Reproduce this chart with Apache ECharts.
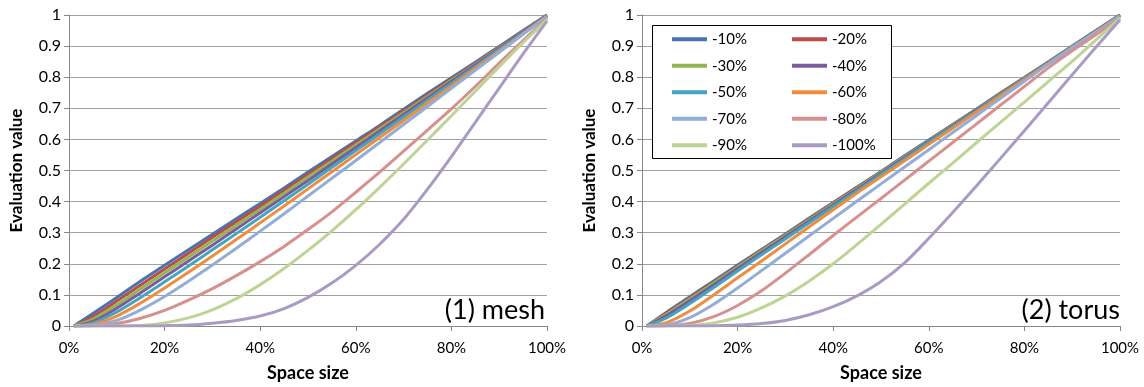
<!DOCTYPE html>
<html>
<head>
<meta charset="utf-8">
<script src="https://cdn.jsdelivr.net/npm/echarts@6/dist/echarts.min.js"></script>
<style>html,body{margin:0;padding:0;background:#fff}#c{width:1144px;height:387px}</style>
</head>
<body>
<div id="c"></div>
<script>
// x positions (space size, fraction)
const xs = [0.01,0.05,0.10,0.15,0.20,0.25,0.30,0.35,0.40,0.45,0.50,0.55,0.60,0.65,0.70,0.75,0.80,0.85,0.90,0.95,1.00];
const seriesNames = ['-10%','-20%','-30%','-40%','-50%','-60%','-70%','-80%','-90%','-100%'];
const xTicks = ['0%','20%','40%','60%','80%','100%'];
const yTicks = ['0','0.1','0.2','0.3','0.4','0.5','0.6','0.7','0.8','0.9','1'];

// (1) mesh
const mesh10  = [0,0.040,0.092,0.145,0.195,0.245,0.295,0.345,0.394,0.444,0.495,0.545,0.595,0.645,0.697,0.748,0.798,0.848,0.899,0.950,1.000];
const mesh20  = [0,0.030,0.080,0.132,0.183,0.234,0.285,0.335,0.385,0.436,0.487,0.538,0.589,0.640,0.691,0.743,0.794,0.845,0.896,0.948,1.000];
const mesh30  = [0,0.022,0.068,0.120,0.171,0.222,0.273,0.324,0.375,0.427,0.479,0.530,0.582,0.634,0.686,0.738,0.790,0.842,0.894,0.946,0.998];
const mesh40  = [0,0.015,0.057,0.107,0.158,0.209,0.260,0.312,0.364,0.416,0.468,0.521,0.574,0.627,0.680,0.733,0.786,0.839,0.892,0.945,0.998];
const mesh50  = [0,0.010,0.045,0.092,0.142,0.193,0.245,0.297,0.350,0.403,0.456,0.510,0.564,0.618,0.672,0.726,0.780,0.834,0.889,0.943,0.997];
const mesh60  = [0,0.005,0.032,0.074,0.122,0.173,0.225,0.278,0.332,0.386,0.441,0.496,0.551,0.606,0.661,0.717,0.772,0.828,0.884,0.940,0.996];
const mesh70  = [0,0.002,0.018,0.052,0.095,0.144,0.196,0.250,0.305,0.361,0.418,0.475,0.532,0.590,0.648,0.706,0.764,0.822,0.880,0.938,0.995];
const mesh80  = [0,0.001,0.008,0.025,0.050,0.083,0.120,0.162,0.207,0.256,0.310,0.367,0.430,0.495,0.562,0.630,0.698,0.770,0.845,0.918,0.990];
const mesh90  = [0,0,0,0.002,0.010,0.026,0.052,0.088,0.133,0.185,0.243,0.306,0.374,0.446,0.521,0.598,0.676,0.755,0.834,0.911,0.985];
const mesh100 = [0,0,0,0,0.001,0.003,0.009,0.018,0.032,0.056,0.092,0.138,0.195,0.263,0.343,0.440,0.545,0.655,0.765,0.875,0.980];

// (2) torus
const torus10  = [0,0.043,0.094,0.145,0.196,0.246,0.296,0.347,0.397,0.447,0.497,0.548,0.598,0.648,0.698,0.749,0.799,0.849,0.900,0.950,1.000];
const torus20  = [0,0.040,0.090,0.141,0.192,0.243,0.293,0.344,0.395,0.445,0.495,0.546,0.596,0.647,0.697,0.748,0.798,0.849,0.899,0.950,1.000];
const torus30  = [0,0.037,0.087,0.138,0.190,0.241,0.291,0.342,0.393,0.443,0.494,0.545,0.595,0.646,0.696,0.747,0.798,0.848,0.899,0.949,1.000];
const torus40  = [0,0.032,0.081,0.133,0.185,0.236,0.287,0.338,0.389,0.440,0.491,0.542,0.593,0.644,0.695,0.746,0.797,0.847,0.898,0.949,0.999];
const torus50  = [0,0.025,0.072,0.124,0.177,0.229,0.280,0.332,0.384,0.435,0.487,0.538,0.590,0.641,0.692,0.744,0.795,0.846,0.897,0.948,0.999];
const torus60  = [0,0.010,0.048,0.100,0.155,0.209,0.264,0.319,0.374,0.428,0.480,0.532,0.584,0.636,0.688,0.740,0.792,0.844,0.896,0.947,0.997];
const torus70  = [0,0.003,0.027,0.070,0.122,0.178,0.234,0.290,0.346,0.402,0.457,0.512,0.567,0.622,0.677,0.732,0.787,0.842,0.895,0.945,0.995];
const torus80  = [0,0.001,0.008,0.030,0.066,0.113,0.170,0.230,0.291,0.351,0.410,0.470,0.530,0.590,0.650,0.710,0.770,0.830,0.885,0.937,0.990];
const torus90  = [0,0,0.002,0.010,0.028,0.058,0.097,0.145,0.200,0.262,0.327,0.393,0.459,0.524,0.590,0.655,0.720,0.786,0.851,0.920,0.990];
const torus100 = [0,0,0,0.001,0.003,0.008,0.018,0.036,0.062,0.097,0.143,0.204,0.282,0.365,0.451,0.539,0.628,0.718,0.808,0.897,0.985];

const meshData  = [mesh10,mesh20,mesh30,mesh40,mesh50,mesh60,mesh70,mesh80,mesh90,mesh100];
const torusData = [torus10,torus20,torus30,torus40,torus50,torus60,torus70,torus80,torus90,torus100];
const colors = ['#4675b0','#be4b48','#93b550','#7a5c9c','#43a5c1','#f08c3e','#92add6','#d6908e','#bdd495','#aa9bc3'];

const FONT = 'Lato';
function xAxisFor(idx){
  return {
    gridIndex: idx, type:'value', min:0, max:1, interval:0.2,
    name:'Space size', nameLocation:'middle', nameGap:38,
    nameTextStyle:{fontFamily:FONT, fontWeight:'bold', fontSize:18, color:'#000'},
    axisLine:{show:true, onZero:false, lineStyle:{color:'#888', width:1}},
    axisTick:{show:true, length:5, lineStyle:{color:'#888'}},
    axisLabel:{fontFamily:FONT, fontSize:15, color:'#000', margin:15,
      formatter:(v)=> xTicks[Math.round(v/0.2)]},
    splitLine:{show:false}
  };
}
function yAxisFor(idx){
  return {
    gridIndex: idx, type:'value', min:0, max:1, interval:0.1,
    name:'Evaluation value', nameLocation:'middle', nameGap:44, nameRotate:90,
    nameTextStyle:{fontFamily:FONT, fontWeight:'bold', fontSize:17, color:'#000'},
    axisLine:{show:true, lineStyle:{color:'#888', width:1}},
    axisTick:{show:true, length:5, lineStyle:{color:'#888'}},
    axisLabel:{fontFamily:FONT, fontSize:16, color:'#000', margin:8,
      formatter:(v)=> yTicks[Math.round(v*10)]},
    splitLine:{show:true, lineStyle:{color:'#a0a0a0', width:1}}
  };
}
const series = [];
[meshData, torusData].forEach((set, gi)=>{
  set.forEach((arr, i)=>{
    series.push({
      name: seriesNames[i], type:'line', xAxisIndex:gi, yAxisIndex:gi,
      data: xs.map((x,k)=>[x, arr[k]]),
      smooth:0.3, showSymbol:false, symbol:'none',
      lineStyle:{width:3, color:colors[i]}, itemStyle:{color:colors[i]},
      animation:false
    });
  });
});
const legendOrder = ['-10%','-30%','-50%','-70%','-90%','-20%','-40%','-60%','-80%','-100%'];
const chart = echarts.init(document.getElementById('c'));
chart.setOption({
  animation:false,
  backgroundColor:'#fff',
  grid:[
    {left:69, right:597, top:15, bottom:57},
    {left:642, right:24, top:15, bottom:57}
  ],
  xAxis:[xAxisFor(0), xAxisFor(1)],
  yAxis:[yAxisFor(0), yAxisFor(1)],
  title:[
    {text:'(1) mesh', right:599, top:297, padding:0, textStyle:{fontFamily:FONT, fontSize:27, fontWeight:'normal', color:'#000'}},
    {text:'(2) torus', right:24, top:297, padding:0, textStyle:{fontFamily:FONT, fontSize:27, fontWeight:'normal', color:'#000'}}
  ],
  graphic:[{type:'rect', z:3, shape:{x:652.5, y:25.5, width:239, height:133}, style:{fill:'#fff', stroke:'#000', lineWidth:1}}],
  legend:{
    orient:'vertical', left:672, top:26, height:133, width:240, padding:0,
    itemWidth:35, itemHeight:4, itemGap:0, icon:'rect',
    data: legendOrder,
    textStyle:{fontFamily:FONT, fontSize:15, color:'#000', width:80, lineHeight:26.5},
    selectedMode:false
  },
  series: series
});
</script>
</body>
</html>
